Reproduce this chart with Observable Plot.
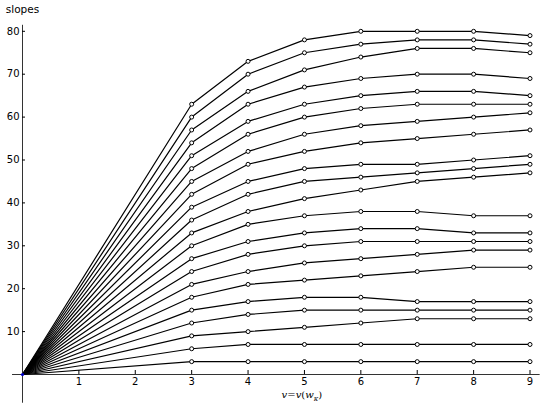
<!DOCTYPE html>
<html>
<head>
<meta charset="utf-8">
<script src="https://cdn.jsdelivr.net/npm/d3@7"></script>
<script src="https://cdn.jsdelivr.net/npm/@observablehq/plot@0.6"></script>
<style>
  html, body { margin: 0; padding: 0; background: #fff; }
  #chart { width: 547px; height: 410px; }
</style>
</head>
<body>
<div id="chart"></div>
<script>
// x positions of the marked points (every series also starts at the origin)
const xValues = [3, 4, 5, 6, 7, 8, 9];

// one array per series: values at x = 3..9
const series01 = [3, 3, 3, 3, 3, 3, 3];
const series02 = [6, 7, 7, 7, 7, 7, 7];
const series03 = [9, 10, 11, 12, 13, 13, 13];
const series04 = [12, 14, 15, 15, 15, 15, 15];
const series05 = [15, 17, 18, 18, 17, 17, 17];
const series06 = [18, 21, 22, 23, 24, 25, 25];
const series07 = [21, 24, 26, 27, 28, 29, 29];
const series08 = [24, 28, 30, 31, 31, 31, 31];
const series09 = [27, 31, 33, 34, 34, 33, 33];
const series10 = [30, 35, 37, 38, 38, 37, 37];
const series11 = [33, 38, 41, 43, 45, 46, 47];
const series12 = [36, 42, 45, 46, 47, 48, 49];
const series13 = [39, 45, 48, 49, 49, 50, 51];
const series14 = [42, 49, 52, 54, 55, 56, 57];
const series15 = [45, 52, 56, 58, 59, 60, 61];
const series16 = [48, 56, 60, 62, 63, 63, 63];
const series17 = [51, 59, 63, 65, 66, 66, 65];
const series18 = [54, 63, 67, 69, 70, 70, 69];
const series19 = [57, 66, 71, 74, 76, 76, 75];
const series20 = [60, 70, 75, 77, 78, 78, 77];
const series21 = [63, 73, 78, 80, 80, 80, 79];

const allSeries = [series01, series02, series03, series04, series05, series06, series07,
  series08, series09, series10, series11, series12, series13, series14, series15,
  series16, series17, series18, series19, series20, series21];

const xTicks = [1, 2, 3, 4, 5, 6, 7, 8, 9];
const yTicks = [10, 20, 30, 40, 50, 60, 70, 80];
const origin = [{x: 0, y: 0}];
const yTitle = "slopes";

// axis line extents (data units)
const xAxisExtent = [-0.177, 9.18];
const yAxisExtent = [-6.7, 81.4];

// build tables
const lineRows = [];
const pointRows = [];
allSeries.forEach((vals, i) => {
  lineRows.push({s: i, x: 0, y: 0});
  vals.forEach((v, j) => {
    lineRows.push({s: i, x: xValues[j], y: v});
    pointRows.push({s: i, x: xValues[j], y: v});
  });
});

const chart = Plot.plot({
  width: 547,
  height: 410,
  marginLeft: 22,
  marginRight: 17.5,
  marginTop: 30.8,
  marginBottom: 36,
  style: {fontFamily: "DejaVu Sans", fontSize: "10px", background: "#fff", color: "#000"},
  x: {domain: [0, 9]},
  y: {domain: [0, 80]},
  marks: [
    Plot.ruleY([0], {x1: xAxisExtent[0], x2: xAxisExtent[1], stroke: "#333", strokeWidth: 1}),
    Plot.ruleX([0], {y1: yAxisExtent[0], y2: yAxisExtent[1], stroke: "#333", strokeWidth: 1}),
    Plot.axisX(xTicks, {tickSize: -4, tickPadding: 7, label: null, fontSize: 10}),
    Plot.axisY(yTicks, {tickSize: -3, tickPadding: 6, label: null, fontSize: 10}),
    Plot.line(lineRows, {x: "x", y: "y", z: "s", stroke: "#000", strokeWidth: 1.2}),
    Plot.dot(pointRows, {x: "x", y: "y", r: 2, stroke: "#000", strokeWidth: 1, fill: "#fff"}),
    Plot.dot(origin, {x: "x", y: "y", r: 1.6, fill: "#0000cc", stroke: null}),
    Plot.text([yTitle], {frameAnchor: "top-left", dx: 0, dy: -26, x: 0, text: d => d, textAnchor: "middle", fontSize: 10.5})
  ]
});

document.getElementById("chart").appendChild(chart);

// x-axis title with subscript kappa
const svg = d3.select(chart);
const xs = d3.scaleLinear().domain([0, 9]).range([22, 529.5]);
const t = svg.append("text")
  .attr("x", xs(5.0) - 2)
  .attr("y", 398)
  .attr("text-anchor", "middle")
  .attr("font-family", "DejaVu Serif")
  .attr("font-style", "italic")
  .attr("font-size", 10);
t.append("tspan").text("v");
t.append("tspan").attr("font-style", "normal").text("=");
t.append("tspan").text("v");
t.append("tspan").attr("font-style", "normal").text("(");
t.append("tspan").text("w");
t.append("tspan").attr("font-size", 7).attr("dy", 2.5).text("κ");
t.append("tspan").attr("font-style", "normal").attr("dy", -2.5).text(")");
</script>
</body>
</html>
